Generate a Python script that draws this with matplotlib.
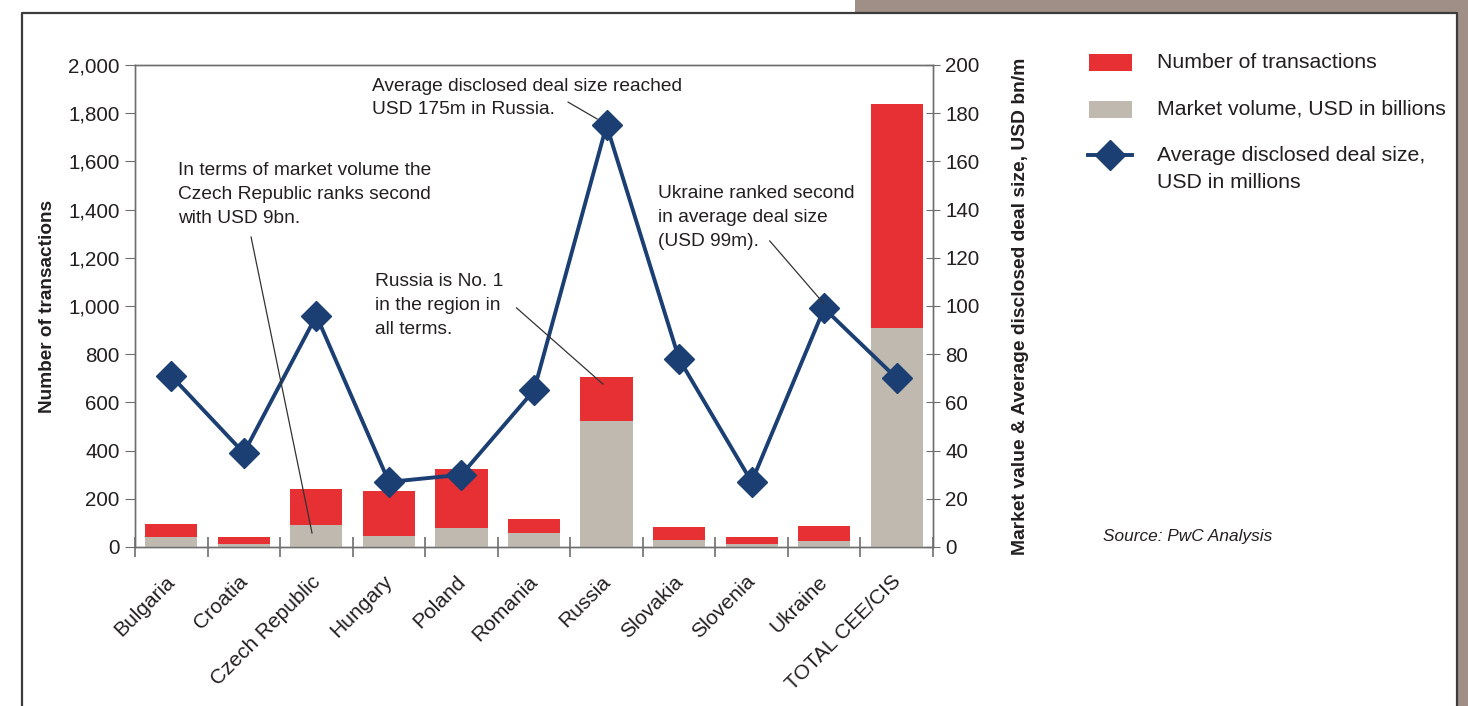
import matplotlib
matplotlib.use("Agg")
import matplotlib.pyplot as plt
from matplotlib.patches import Rectangle
from matplotlib.lines import Line2D
from matplotlib.transforms import ScaledTranslation

plt.rcParams['font.family'] = ['Liberation Sans', 'DejaVu Sans']

countries = ["Bulgaria", "Croatia", "Czech Republic", "Hungary", "Poland", "Romania",
             "Russia", "Slovakia", "Slovenia", "Ukraine", "TOTAL CEE/CIS"]
transactions = [95, 42, 242, 233, 325, 117, 705, 84, 42, 88, 1838]
volume_bn = [4.1, 1.2, 9.0, 4.6, 7.9, 5.8, 52.4, 2.9, 1.2, 2.5, 91.0]
avg_deal_m = [71, 39, 96, 27, 30, 65, 175, 78, 27, 99, 70]

RED = "#e63033"
GREY = "#c0b9b0"
NAVY = "#1b3f73"
BROWN = "#9f8f87"
TXT = "#231f20"
SPINE = "#6e6e6e"

W, H = 1468, 706
fig = plt.figure(figsize=(W / 100, H / 100), dpi=100)

def fx(px):
    return px / W

def fy(py):
    return 1 - py / H

# page frame
fig.add_artist(Rectangle((fx(855), fy(13)), fx(W) - fx(855), 1 - fy(13),
                         transform=fig.transFigure, color=BROWN, lw=0))
fig.add_artist(Rectangle((fx(1458), 0), 1 - fx(1458), fy(13),
                         transform=fig.transFigure, color=BROWN, lw=0))
fig.add_artist(Line2D([fx(22), fx(22), fx(1457), fx(1457)], [0, fy(13), fy(13), 0],
                      transform=fig.transFigure, color="#3c3c3c", lw=1.6))

ax = fig.add_axes([fx(135), fy(547), fx(933) - fx(135), fy(65) - fy(547)])
ax2 = ax.twinx()

x = list(range(len(countries)))
ax.bar(x, transactions, width=0.72, color=RED, lw=0)
ax2.bar(x, volume_bn, width=0.72, color=GREY, lw=0)
ax2.plot(x, avg_deal_m, color=NAVY, lw=2.8, marker="D", markersize=15, zorder=5)

ax.set_xlim(-0.5, len(countries) - 0.5)
ax.set_ylim(0, 2000)
ax2.set_ylim(0, 200)
ax.set_yticks(range(0, 2001, 200))
ax.set_yticklabels([f"{v:,}" for v in range(0, 2001, 200)])
ax2.set_yticks(range(0, 201, 20))

for a in (ax, ax2):
    for s in a.spines.values():
        s.set_color(SPINE)
        s.set_linewidth(1.0)

ax.tick_params(axis="y", direction="out", length=7, color=SPINE, labelsize=14.8,
               labelcolor=TXT, pad=4)
ax2.tick_params(axis="y", direction="inout", length=10, color=SPINE, labelsize=14.8,
                labelcolor=TXT, pad=4)

ax.set_xticks(x)
ax.set_xticklabels(countries, rotation=45, ha="right", va="top",
                   rotation_mode="anchor", fontsize=15, color=TXT)
ax.tick_params(axis="x", length=0, pad=18)
shift = ScaledTranslation(-6 / 100, 0, fig.dpi_scale_trans)
for lbl in ax.get_xticklabels():
    lbl.set_transform(lbl.get_transform() + shift)
ax.set_xticks([i - 0.5 for i in range(len(countries) + 1)], minor=True)
ax.tick_params(axis="x", which="minor", direction="inout", length=15, color=SPINE, width=1.2)

ax.set_ylabel("Number of transactions", fontsize=13.7, fontweight="bold", color=TXT,
              labelpad=9)
ax2.set_ylabel("Market value & Average disclosed deal size, USD bn/m", fontsize=13.9,
               fontweight="bold", color=TXT, labelpad=23)

# callouts
notes = [
    ("Average disclosed deal size reached\nUSD 175m in Russia.", (2.77, 194.8),
     (5.47, 184.6), (5.87, 177.6)),
    ("In terms of market volume the\nCzech Republic ranks second\nwith USD 9bn.", (0.09, 159.6),
     (1.10, 128.6), (1.94, 5.8)),
    ("Russia is No. 1\nin the region in\nall terms.", (2.81, 113.5),
     (4.76, 99.2), (5.95, 67.6)),
    ("Ukraine ranked second\nin average deal size\n(USD 99m).", (6.71, 150.0),
     (8.25, 127.0), (8.99, 101.2)),
]
for text, pos, start, end in notes:
    ax2.text(pos[0], pos[1], text, ha="left", va="top", fontsize=13.8, color=TXT,
             linespacing=1.52, zorder=6)
    ax2.plot([start[0], end[0]], [start[1], end[1]], color="#333333", lw=0.9, zorder=6)

# legend
fig.add_artist(Rectangle((fx(1089), fy(71)), fx(1132) - fx(1089), fy(54) - fy(71),
                         transform=fig.transFigure, color=RED, lw=0))
fig.add_artist(Rectangle((fx(1089), fy(118)), fx(1132) - fx(1089), fy(101) - fy(118),
                         transform=fig.transFigure, color=GREY, lw=0))
fig.add_artist(Line2D([fx(1088), fx(1132)], [fy(155), fy(155)], transform=fig.transFigure,
                      color=NAVY, lw=2.8))
fig.add_artist(Line2D([fx(1110)], [fy(155)], transform=fig.transFigure, color=NAVY,
                      marker="D", markersize=15, lw=0))
fig.text(fx(1157), fy(62), "Number of transactions", fontsize=15.3, color=TXT, va="center")
fig.text(fx(1157), fy(109), "Market volume, USD in billions", fontsize=15.3, color=TXT,
         va="center")
fig.text(fx(1157), fy(146), "Average disclosed deal size,\nUSD in millions", fontsize=15.3,
         color=TXT, va="top", linespacing=1.5)

fig.text(fx(1103), fy(536), "Source: PwC Analysis", fontsize=12.4, style="italic", color=TXT,
         va="center")

fig.savefig("out.png", dpi=100)
